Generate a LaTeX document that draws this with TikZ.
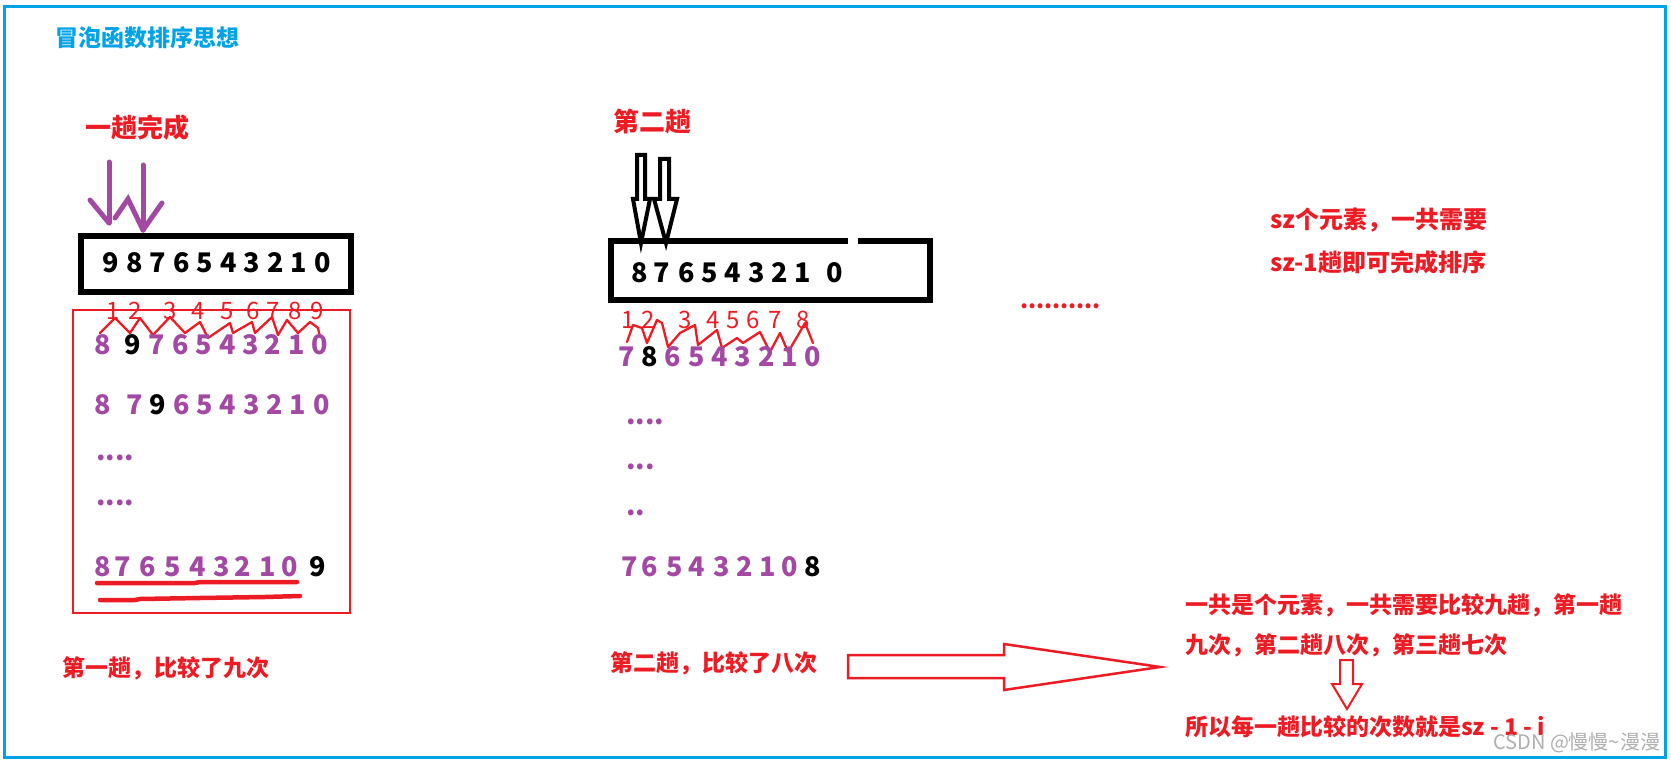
\documentclass[tikz,border=0pt]{standalone}
\usepackage{fontspec}
\setmainfont{Noto Sans CJK SC}
\definecolor{frameblue}{RGB}{0,162,232}
\definecolor{pred}{RGB}{237,28,36}
\definecolor{ppurple}{RGB}{163,73,164}
\definecolor{wmgray}{RGB}{175,175,175}
\tikzset{
  cjk/.style={font=\fontsize{#1}{#1}\selectfont\bfseries, inner sep=0pt, anchor=west, text=pred},
  dig/.style={font=\fontsize{27}{27}\selectfont\bfseries, inner sep=0pt},
  rnum/.style={font=\fontsize{24}{24}\selectfont, inner sep=0pt, text=pred},
  zig/.style={draw=pred, line width=2.3pt, line join=round, line cap=round},
  parrow/.style={draw=ppurple, line width=5pt, line cap=round},
  uline/.style={draw=pred, line width=4.5pt, line cap=round, line join=round},
  hollowblack/.style={draw=black, line width=4pt, line join=miter},
  hollowred/.style={draw=pred, line width=2.5pt, line join=miter},
  blackbox/.style={draw=black, line width=6pt},
}
\begin{document}
\begin{tikzpicture}[x=1pt,y=-1pt]
\useasboundingbox (0,0) rectangle (1671,762);
\fill[white] (0,0) rectangle (1671,762);
% frame
\draw[frameblue, line width=2.8pt] (4.7,6.2) rectangle (1665.5,757.3);
% title
\node[cjk=23, text=frameblue] (title) at (55,38) {冒泡函数排序思想};

% ===== panel 1 =====
\node[cjk=26] (lblA) at (85,128) {一趟完成};
\draw[parrow] (109,162) -- (109,223);
\draw[parrow] (90,200) -- (109,223);
\draw[parrow] (115,218) -- (128,199) -- (143,230);
\draw[parrow] (143,165) -- (143,230);
\draw[parrow] (162,203) -- (143,230);
\draw[blackbox] (81,236) rectangle (351,292);
\foreach \d/\x [count=\i] in {9/111,8/134.5,7/158,6/181.5,5/205,4/228.5,3/252,2/275.5,1/299,0/322.5}
  \node[dig] (bA\i) at (\x,263) {\d};
\draw[pred, line width=2.5pt] (73,310) rectangle (350,613);
\foreach \d/\x [count=\i] in {1/113,2/135,3/170,4/198,5/227,6/253,7/273,8/295,9/317}
  \node[rnum] (nA\i) at (\x,311) {\d};
\draw[zig] (100,333) -- (115,318) -- (120,323) -- (130,333) -- (140,318) -- (153,335) -- (170,317) -- (185,333) -- (200,322) -- (208,338) -- (230,323) -- (233,333) -- (252,322) -- (255,333) -- (272,317) -- (278,335) -- (287,320) -- (298,333) -- (310,322) -- (318,328) -- (320,337);
\foreach \d/\x/\c [count=\i] in {8/103/ppurple,9/133/black,7/157/ppurple,6/181/ppurple,5/204/ppurple,4/228/ppurple,3/251/ppurple,2/273/ppurple,1/297/ppurple,0/320/ppurple}
  \node[dig, text=\c] (pA\i) at (\x,345) {\d};
\foreach \d/\x/\c [count=\i] in {8/103/ppurple,7/135/ppurple,9/158/black,6/182/ppurple,5/205/ppurple,4/228/ppurple,3/252/ppurple,2/275/ppurple,1/298/ppurple,0/322/ppurple}
  \node[dig, text=\c] (qA\i) at (\x,405) {\d};
\node[dig, text=ppurple, anchor=west] (dA1) at (96,458) {....};
\node[dig, text=ppurple, anchor=west] (dA2) at (96,503) {....};
\foreach \d/\x/\c [count=\i] in {8/103/ppurple,7/123/ppurple,6/148/ppurple,5/173/ppurple,4/198/ppurple,3/222/ppurple,2/243/ppurple,1/268/ppurple,0/290/ppurple,9/318/black}
  \node[dig, text=\c] (fA\i) at (\x,567) {\d};
\draw[uline] (97,583) -- (195,583) -- (200,582) -- (297,582);
\draw[uline] (100,600) -- (135,600) -- (140,599) -- (200,598) -- (265,597) -- (300,596);
\node[cjk=23] (capA) at (62,668) {第一趟，比较了九次};

% ===== panel 2 =====
\node[cjk=26] (lblB) at (613,122) {第二趟};
\draw[hollowblack] (637,155) -- (645,155) -- (645,199) -- (650,199) -- (641,243) -- (633,199) -- (637,199) -- cycle;
\draw[hollowblack] (660,159) -- (669,159) -- (669,199) -- (677,199) -- (666,243) -- (654,199) -- (660,199) -- cycle;
\draw[blackbox] (848,241) -- (611,241) -- (611,300) -- (930,300) -- (930,241) -- (858,241);
\foreach \d/\x [count=\i] in {8/640,7/662,6/687,5/710,4/733,3/757,2/780,1/803,0/835}
  \node[dig] (bB\i) at (\x,273) {\d};
\foreach \d/\x [count=\i] in {1/628,2/648,3/685,4/713,5/733,6/753,7/775,8/803}
  \node[rnum] (nB\i) at (\x,320) {\d};
\draw[zig] (627,342) -- (633,325) -- (642,328) -- (647,343) -- (657,320) -- (662,323) -- (668,347) -- (680,333) -- (695,325) -- (698,345) -- (717,330) -- (722,348) -- (737,338) -- (743,343) -- (760,332) -- (770,352) -- (780,333) -- (788,352) -- (797,337) -- (805,323) -- (813,343);
\foreach \d/\x/\c [count=\i] in {7/627/ppurple,8/650/black,6/673/ppurple,5/697/ppurple,4/720/ppurple,3/743/ppurple,2/767/ppurple,1/790/ppurple,0/813/ppurple}
  \node[dig, text=\c] (pB\i) at (\x,357) {\d};
\node[dig, text=ppurple, anchor=west] (dB1) at (626,422) {....};
\node[dig, text=ppurple, anchor=west] (dB2) at (626,467) {...};
\node[dig, text=ppurple, anchor=west] (dB3) at (626,513) {..};
\foreach \d/\x/\c [count=\i] in {7/630/ppurple,6/650/ppurple,5/675/ppurple,4/697/ppurple,3/722/ppurple,2/745/ppurple,1/768/ppurple,0/790/ppurple,8/813/black}
  \node[dig, text=\c] (fB\i) at (\x,567) {\d};
\node[cjk=23] (capB) at (610,663) {第二趟，比较了八次};
\draw[hollowred] (848,655) -- (1004,655) -- (1004,644) -- (1160,667) -- (1004,690) -- (1004,678) -- (848,678) -- cycle;

% ===== right side =====
\node[font=\fontsize{23}{23}\selectfont\bfseries, inner sep=0pt, text=pred, anchor=west] (dots) at (1020,306) {..........};
\node[cjk=24] (sumA) at (1270,220) {sz个元素，一共需要};
\node[cjk=24] (sumB) at (1270,262) {sz-1趟即可完成排序};
\node[cjk=23] (noteA) at (1185,605) {一共是个元素，一共需要比较九趟，第一趟};
\node[cjk=23] (noteB) at (1185,645) {九次，第二趟八次，第三趟七次};
\draw[draw=pred, line width=2pt] (1340,660) -- (1353,660) -- (1353,684) -- (1362,684) -- (1347,709) -- (1332,684) -- (1340,684) -- cycle;
\node[cjk=23] (noteC) at (1185,727) {所以每一趟比较的次数就是sz - 1 - i};
\node[font=\fontsize{20}{20}\selectfont, inner sep=0pt, anchor=west, text=wmgray] (wm) at (1493,743) {CSDN @慢慢\textasciitilde 漫漫};
\end{tikzpicture}
\end{document}
